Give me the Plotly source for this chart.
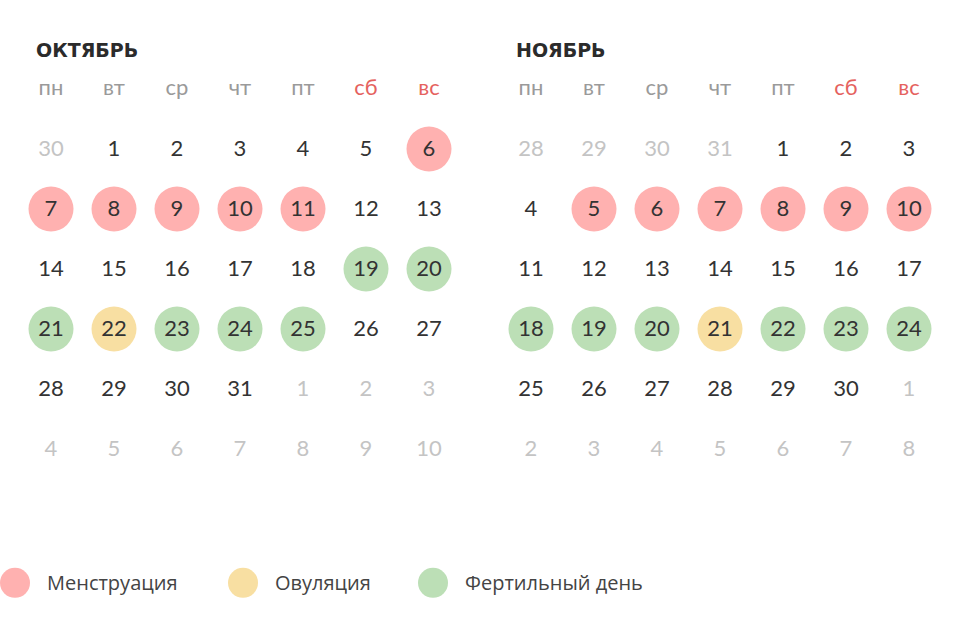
import plotly.graph_objects as go

# --- data -------------------------------------------------------------
months = ["ОКТЯБРЬ", "НОЯБРЬ"]
weekdays = ["пн", "вт", "ср", "чт", "пт", "сб", "вс"]

# calendar grids, 6 weeks x 7 days, read row by row
oct_days = [30, 1, 2, 3, 4, 5, 6,
            7, 8, 9, 10, 11, 12, 13,
            14, 15, 16, 17, 18, 19, 20,
            21, 22, 23, 24, 25, 26, 27,
            28, 29, 30, 31, 1, 2, 3,
            4, 5, 6, 7, 8, 9, 10]
nov_days = [28, 29, 30, 31, 1, 2, 3,
            4, 5, 6, 7, 8, 9, 10,
            11, 12, 13, 14, 15, 16, 17,
            18, 19, 20, 21, 22, 23, 24,
            25, 26, 27, 28, 29, 30, 1,
            2, 3, 4, 5, 6, 7, 8]
# which cells belong to the shown month (False = neighbour month)
oct_in_month = [False] + [True] * 31 + [False] * 10
nov_in_month = [False] * 4 + [True] * 30 + [False] * 8

oct_menstruation = [6, 7, 8, 9, 10, 11]
oct_ovulation = [22]
oct_fertile = [19, 20, 21, 23, 24, 25]
nov_menstruation = [5, 6, 7, 8, 9, 10]
nov_ovulation = [21]
nov_fertile = [18, 19, 20, 22, 23, 24]

legend_labels = ["Менструация", "Овуляция", "Фертильный день"]

# --- styles -----------------------------------------------------------
C_MENS = "#ffb1b0"
C_OVUL = "#f8dfa2"
C_FERT = "#bcdfb6"
C_DAY = "#333333"
C_OTHER = "#c4c4c4"
C_HEAD = "#9a9a9a"
C_WEEKEND = "#e5625e"
NUM_FONT = "Lato"

W, H = 960, 619

fig = go.Figure()


def add_month(days, in_month, mens, ovul, fert, title, xa):
    xs = [i % 7 for i in range(len(days))]
    ys = [i // 7 for i in range(len(days))]
    # coloured circles
    for marks, color in [(mens, C_MENS), (ovul, C_OVUL), (fert, C_FERT)]:
        cx, cy = [], []
        for x, y, d, ok in zip(xs, ys, days, in_month):
            if ok and d in marks:
                cx.append(x)
                cy.append(y)
        fig.add_trace(go.Scatter(x=cx, y=cy, mode="markers", xaxis=xa, yaxis="y",
                                 marker=dict(size=45, color=color, line=dict(width=0)),
                                 hoverinfo="skip", showlegend=False))
    # day numbers
    fig.add_trace(go.Scatter(
        x=xs, y=[y + 0.03 for y in ys], mode="text", xaxis=xa, yaxis="y",
        text=[str(d) for d in days],
        textfont=dict(family=NUM_FONT, size=22,
                      color=[C_DAY if ok else C_OTHER for ok in in_month]),
        hoverinfo="skip", showlegend=False))
    # weekday header
    fig.add_trace(go.Scatter(
        x=list(range(7)), y=[-1] * 7, mode="text", xaxis=xa, yaxis="y",
        text=weekdays,
        textfont=dict(family=NUM_FONT, size=22,
                      color=[C_HEAD] * 5 + [C_WEEKEND] * 2),
        hoverinfo="skip", showlegend=False))
    # month title
    fig.add_annotation(x=-0.27, y=-1.65, xref=xa, yref="y", text="<b>" + title + "</b>",
                       showarrow=False, xanchor="left", yanchor="middle",
                       font=dict(family="DejaVu Sans", size=19, color="#2b2b2b"))


add_month(oct_days, oct_in_month, oct_menstruation, oct_ovulation, oct_fertile, months[0], "x")
add_month(nov_days, nov_in_month, nov_menstruation, nov_ovulation, nov_fertile, months[1], "x2")

# legend drawn on its own pixel-wide axis
leg_x = [15, 243, 433]
leg_colors = [C_MENS, C_OVUL, C_FERT]
fig.add_trace(go.Scatter(x=leg_x, y=[7.23] * 3, mode="markers", xaxis="x3", yaxis="y3",
                         marker=dict(size=30, color=leg_colors, line=dict(width=0)),
                         cliponaxis=False, hoverinfo="skip", showlegend=False))
for lx, lab in zip(leg_x, legend_labels):
    fig.add_annotation(x=lx + 30, y=7.23, xref="x3", yref="y3", text=lab, showarrow=False,
                       xanchor="left", yanchor="middle",
                       font=dict(family="Open Sans", size=20, color="#444444"))

hidden = dict(visible=False, showgrid=False, zeroline=False, fixedrange=True)
y0 = -149 / 60
y1 = y0 + H / 60

fig.update_layout(
    width=W, height=H,
    margin=dict(l=0, r=0, t=0, b=0),
    paper_bgcolor="white", plot_bgcolor="rgba(0,0,0,0)",
    xaxis=dict(domain=[0, 0.5], range=[-51 / 63, (480 - 51) / 63], anchor="y", **hidden),
    xaxis2=dict(domain=[0.5, 1], range=[-51 / 63, (480 - 51) / 63], anchor="y", **hidden),
    xaxis3=dict(domain=[0, 1], range=[0, W], anchor="y3", **hidden),
    yaxis=dict(domain=[0, 1], range=[y1, y0], anchor="x", **hidden),
    yaxis3=dict(domain=[0, 1], range=[y1, y0], anchor="x3", **hidden),
    showlegend=False,
)

# drop the default body margin so the figure fills the window
fig.write_html("out.html", config={"displayModeBar": False},
               post_script="document.body.style.margin = '0';")
